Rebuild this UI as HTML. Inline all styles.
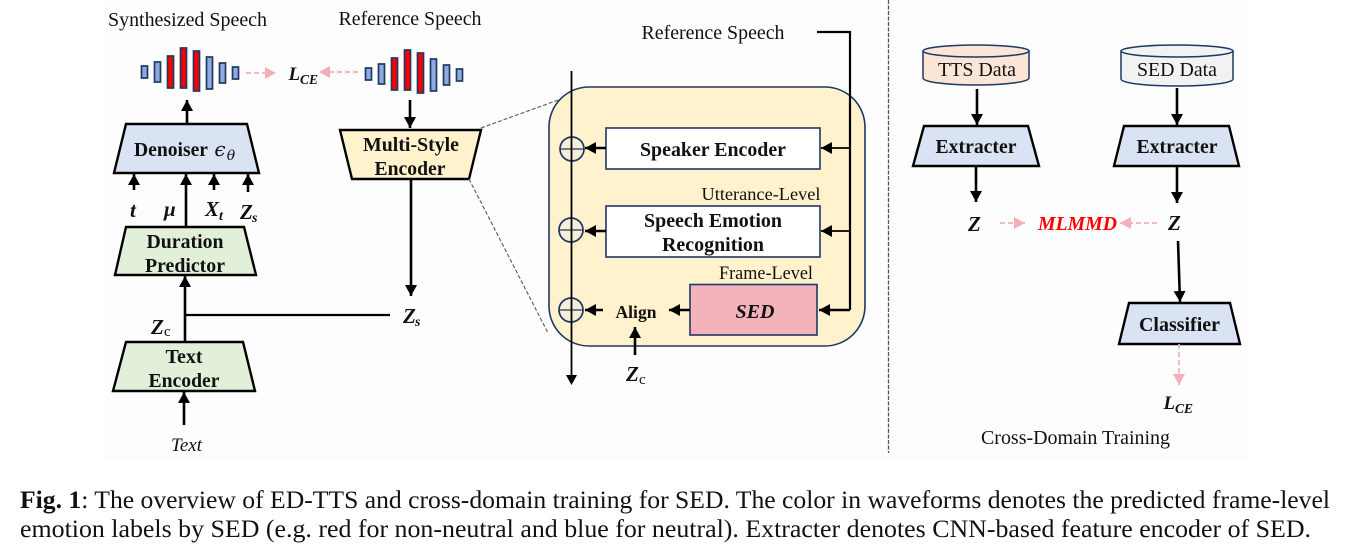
<!DOCTYPE html>
<html><head><meta charset="utf-8"><style>
html,body{margin:0;padding:0;background:#fff;width:1345px;height:553px;overflow:hidden}
svg{display:block}
text{font-family:"Liberation Serif",serif;fill:#111}
.b{font-weight:bold;font-size:19.5px;text-anchor:middle}
.n{font-size:20px;text-anchor:middle}
.m{font-weight:bold;font-style:italic;font-size:21px}
.ml{font-weight:bold;font-style:italic;font-size:19px}
.s{font-weight:bold;font-style:italic;font-size:14px}
.trap{stroke:#000;stroke-width:2.4;stroke-linejoin:miter}
.a{stroke:#000;stroke-width:2.6;fill:none;marker-end:url(#ah)}
.l{stroke:#000;stroke-width:2.2;fill:none}
.p{stroke:#f4aeb9;stroke-width:1.7;stroke-dasharray:5 3;fill:none;marker-end:url(#ph)}
.d{stroke:#666;stroke-width:1.2;stroke-dasharray:4 2;fill:none}
.bl{fill:#8faadc;stroke:#203864;stroke-width:1.7}
.rd{fill:#ff0000;stroke:#203864;stroke-width:1.7}
.box{stroke:#203864;stroke-width:1.6}
.cap{font-size:25px}
</style></head><body>
<svg width="1345" height="553" viewBox="0 0 1345 553" xmlns="http://www.w3.org/2000/svg">
<defs>
<marker id="ah" markerUnits="userSpaceOnUse" markerWidth="13" markerHeight="13" refX="11" refY="6" orient="auto"><polygon points="0,0 11,6 0,12" fill="#000"/></marker>
<marker id="ph" markerUnits="userSpaceOnUse" markerWidth="13" markerHeight="13" refX="11" refY="6" orient="auto"><polygon points="0,0 11,6 0,12" fill="#f4aeb9"/></marker>
</defs>
<rect x="105" y="0" width="1145" height="460" fill="#fdfdfd"/>

<!-- Top labels -->
<text class="n" x="187.500" y="26" textLength="159" lengthAdjust="spacingAndGlyphs">Synthesized Speech</text>
<text class="n" x="410" y="25" textLength="143" lengthAdjust="spacingAndGlyphs">Reference Speech</text>

<!-- Waveform 1 -->
<rect class="bl" x="141.500" y="66" width="6" height="12"/>
<rect class="bl" x="154.500" y="62" width="6" height="20"/>
<rect class="rd" x="167.500" y="56" width="6" height="32"/>
<rect class="rd" x="180.500" y="48" width="6" height="40"/>
<rect class="rd" x="193.500" y="51" width="6" height="40"/>
<rect class="bl" x="206.500" y="57" width="6" height="32"/>
<rect class="bl" x="219.500" y="63" width="6" height="20"/>
<rect class="bl" x="232.500" y="67" width="6" height="12"/>
<!-- Waveform 2 -->
<rect class="bl" x="365.500" y="68" width="6" height="12"/>
<rect class="bl" x="378.500" y="64" width="6" height="20"/>
<rect class="rd" x="391.500" y="58" width="6" height="32"/>
<rect class="rd" x="404.500" y="50" width="6" height="40"/>
<rect class="rd" x="417.500" y="53" width="6" height="40"/>
<rect class="bl" x="430.500" y="59" width="6" height="32"/>
<rect class="bl" x="443.500" y="65" width="6" height="20"/>
<rect class="bl" x="456.500" y="69" width="6" height="12"/>

<path class="p" d="M246 73H276"/>
<path class="p" d="M358 72H319"/>
<text class="ml" x="288.500" y="80">L</text><text class="s" x="300" y="84" textLength="18" lengthAdjust="spacingAndGlyphs">CE</text>

<!-- Left trapezoids -->
<polygon class="trap" fill="#dae3f3" points="126,124 247,124 259,173 114,173"/>
<text class="b" x="171" y="156" textLength="74" lengthAdjust="spacingAndGlyphs">Denoiser</text>
<text x="220" y="156" font-size="20" font-style="italic" style="font-family:'DejaVu Serif',serif" text-anchor="middle">ϵ</text>
<text x="231" y="160" font-size="14" font-style="italic" text-anchor="middle" style="font-family:'DejaVu Serif',serif">θ</text>

<polygon class="trap" fill="#fff2cc" points="340,130 481,130 469,179 352,179"/>
<text class="b" x="411" y="151" textLength="96" lengthAdjust="spacingAndGlyphs">Multi-Style</text>
<text class="b" x="410" y="175" textLength="71" lengthAdjust="spacingAndGlyphs">Encoder</text>

<polygon class="trap" fill="#e2f0d9" points="126,227 244,227 256,275 115,275"/>
<text class="b" x="185" y="248" textLength="77" lengthAdjust="spacingAndGlyphs">Duration</text>
<text class="b" x="185" y="272" textLength="80" lengthAdjust="spacingAndGlyphs">Predictor</text>

<polygon class="trap" fill="#e2f0d9" points="126,342 243,342 255,391 113,391"/>
<text class="b" x="184" y="363" textLength="37" lengthAdjust="spacingAndGlyphs">Text</text>
<text class="b" x="184" y="387" textLength="71" lengthAdjust="spacingAndGlyphs">Encoder</text>

<!-- Left arrows -->
<path class="a" d="M187 124V100"/>
<path class="a" d="M410 100V128"/>
<path class="a" d="M134 190V174"/>
<path class="a" d="M186 226V174"/>
<path class="a" d="M214 190V174"/>
<path class="a" d="M248 192V174"/>
<path class="a" d="M185 341V276"/>
<path class="a" d="M184 425V392"/>
<path class="a" d="M411 179V296"/>
<path class="l" d="M185 315H390"/>

<text class="m" x="130" y="217">t</text>
<text class="m" x="164" y="216">μ</text>
<text class="m" x="205" y="216">X</text><text class="s" x="219" y="220">t</text>
<text class="m" x="240" y="219">Z</text><text class="s" x="252" y="222">s</text>
<text class="m" x="403" y="323">Z</text><text class="s" x="415" y="326">s</text>
<text class="m" x="151" y="334">Z</text><text x="164" y="336" font-size="15">c</text>
<text x="186.500" y="451" font-size="19" font-style="italic" text-anchor="middle" textLength="31" lengthAdjust="spacingAndGlyphs">Text</text>

<!-- Dashed zoom lines -->
<path class="d" d="M481 128L561 99"/>
<path class="d" d="M469 179L548 333"/>

<!-- Panel -->
<rect x="549" y="87" width="316" height="259" rx="40" ry="40" fill="#fff2cc" stroke="#203864" stroke-width="1.6"/>
<text class="n" x="713" y="39" textLength="143" lengthAdjust="spacingAndGlyphs">Reference Speech</text>
<path class="l" d="M817 32H850V310"/>

<circle cx="572" cy="149" r="12" fill="#dae3f3" fill-opacity=".25" stroke="#203864" stroke-width="1.7"/>
<circle cx="571" cy="230" r="12" fill="#dae3f3" fill-opacity=".25" stroke="#203864" stroke-width="1.7"/>
<circle cx="571" cy="310" r="12" fill="#dae3f3" fill-opacity=".25" stroke="#203864" stroke-width="1.7"/>
<path d="M560 149H584M559 230H583M559 310H583" stroke="#203864" stroke-width="1.3"/>
<path d="M571.500 71V378" stroke="#000" stroke-width="1.8"/>
<polygon points="566,375 577,375 571.500,385" fill="#000"/>

<rect class="box" x="606" y="128" width="214" height="41" fill="#fff"/>
<text class="b" x="713" y="156" textLength="146" lengthAdjust="spacingAndGlyphs">Speaker Encoder</text>
<text x="761" y="200" font-size="18.300" text-anchor="middle" textLength="119" lengthAdjust="spacingAndGlyphs">Utterance-Level</text>
<rect class="box" x="606" y="206" width="214" height="51" fill="#fff"/>
<text class="b" x="713" y="227" textLength="138" lengthAdjust="spacingAndGlyphs">Speech Emotion</text>
<text class="b" x="713" y="251" textLength="102" lengthAdjust="spacingAndGlyphs">Recognition</text>
<text x="766" y="279" font-size="19" text-anchor="middle" textLength="94" lengthAdjust="spacingAndGlyphs">Frame-Level</text>
<rect class="box" x="690" y="284.500" width="127" height="50.500" fill="#f4b3bb"/>
<text x="755" y="318" font-size="19.500" font-weight="bold" font-style="italic" text-anchor="middle" textLength="39" lengthAdjust="spacingAndGlyphs">SED</text>
<text x="636" y="318" font-size="17.500" font-weight="bold" text-anchor="middle" textLength="41" lengthAdjust="spacingAndGlyphs">Align</text>

<path class="a" d="M606 148H585"/>
<path class="a" d="M606 231H585"/>
<path class="a" d="M603 310H585"/>
<path class="a" d="M690 310H669"/>
<path class="a" d="M850 148H821" style="stroke-width:1.8"/>
<path class="a" d="M850 231H821" style="stroke-width:1.8"/>
<path class="a" d="M850 310H819"/>
<path class="a" d="M635 355V327"/>
<text class="m" x="626" y="381">Z</text><text x="639" y="384" font-size="15">c</text>

<!-- Divider -->
<path d="M888.500 0V453" stroke="#555" stroke-width="1.3" stroke-dasharray="4 1.500" fill="none"/>

<!-- Cylinders -->
<path d="M923 51V78C923 82 947 85 976 85S1029 82 1029 78V51Z" fill="#fbe5d6" stroke="#203864" stroke-width="1.5"/>
<ellipse cx="976" cy="51" rx="53" ry="6" fill="#fbe5d6" stroke="#203864" stroke-width="1.5"/>
<text class="n" x="977" y="76" textLength="78" lengthAdjust="spacingAndGlyphs">TTS Data</text>
<path d="M1121 51V79C1121 83 1146 86 1177 86S1233 83 1233 79V51Z" fill="#f2f2f2" stroke="#203864" stroke-width="1.5"/>
<ellipse cx="1177" cy="51" rx="56" ry="6" fill="#f2f2f2" stroke="#203864" stroke-width="1.5"/>
<text class="n" x="1177" y="76" textLength="80" lengthAdjust="spacingAndGlyphs">SED Data</text>

<!-- Right trapezoids -->
<polygon class="trap" fill="#dae3f3" points="924,126 1028,126 1039,166 913,166"/>
<text class="b" x="976" y="153" textLength="81" lengthAdjust="spacingAndGlyphs">Extracter</text>
<polygon class="trap" fill="#dae3f3" points="1124,126 1229,126 1239,166 1114,166"/>
<text class="b" x="1177" y="153" textLength="81" lengthAdjust="spacingAndGlyphs">Extracter</text>
<polygon class="trap" fill="#dae3f3" points="1129,303 1230,303 1240,344 1119,344"/>
<text class="b" x="1179.500" y="331" textLength="81" lengthAdjust="spacingAndGlyphs">Classifier</text>

<path class="a" d="M977 89V125"/>
<path class="a" d="M1177 88V125"/>
<path class="a" d="M976 166V202"/>
<path class="a" d="M1177 166V203"/>
<path class="a" d="M1178 241L1180 302"/>
<path class="p" d="M1000 223H1025"/>
<path class="p" d="M1157 223H1120"/>
<path class="p" d="M1179 344V385"/>

<text class="m" x="968" y="231">Z</text>
<text class="m" x="1168" y="230">Z</text>
<text x="1038" y="230" font-size="19.500" font-weight="bold" font-style="italic" style="fill:#ff0000" textLength="79" lengthAdjust="spacingAndGlyphs">MLMMD</text>
<text class="ml" x="1163.500" y="409">L</text><text class="s" x="1175" y="413" textLength="18" lengthAdjust="spacingAndGlyphs">CE</text>
<text class="n" x="1075.500" y="444" textLength="189" lengthAdjust="spacingAndGlyphs">Cross-Domain Training</text>

<!-- Caption -->
<text class="cap" x="20" y="508" textLength="1310" lengthAdjust="spacingAndGlyphs"><tspan font-weight="bold">Fig. 1</tspan>: The overview of ED-TTS and cross-domain training for SED. The color in waveforms denotes the predicted frame-level</text>
<text class="cap" x="20" y="537" textLength="1291" lengthAdjust="spacingAndGlyphs">emotion labels by SED (e.g. red for non-neutral and blue for neutral). Extracter denotes CNN-based feature encoder of SED.</text>
</svg>
</body></html>
